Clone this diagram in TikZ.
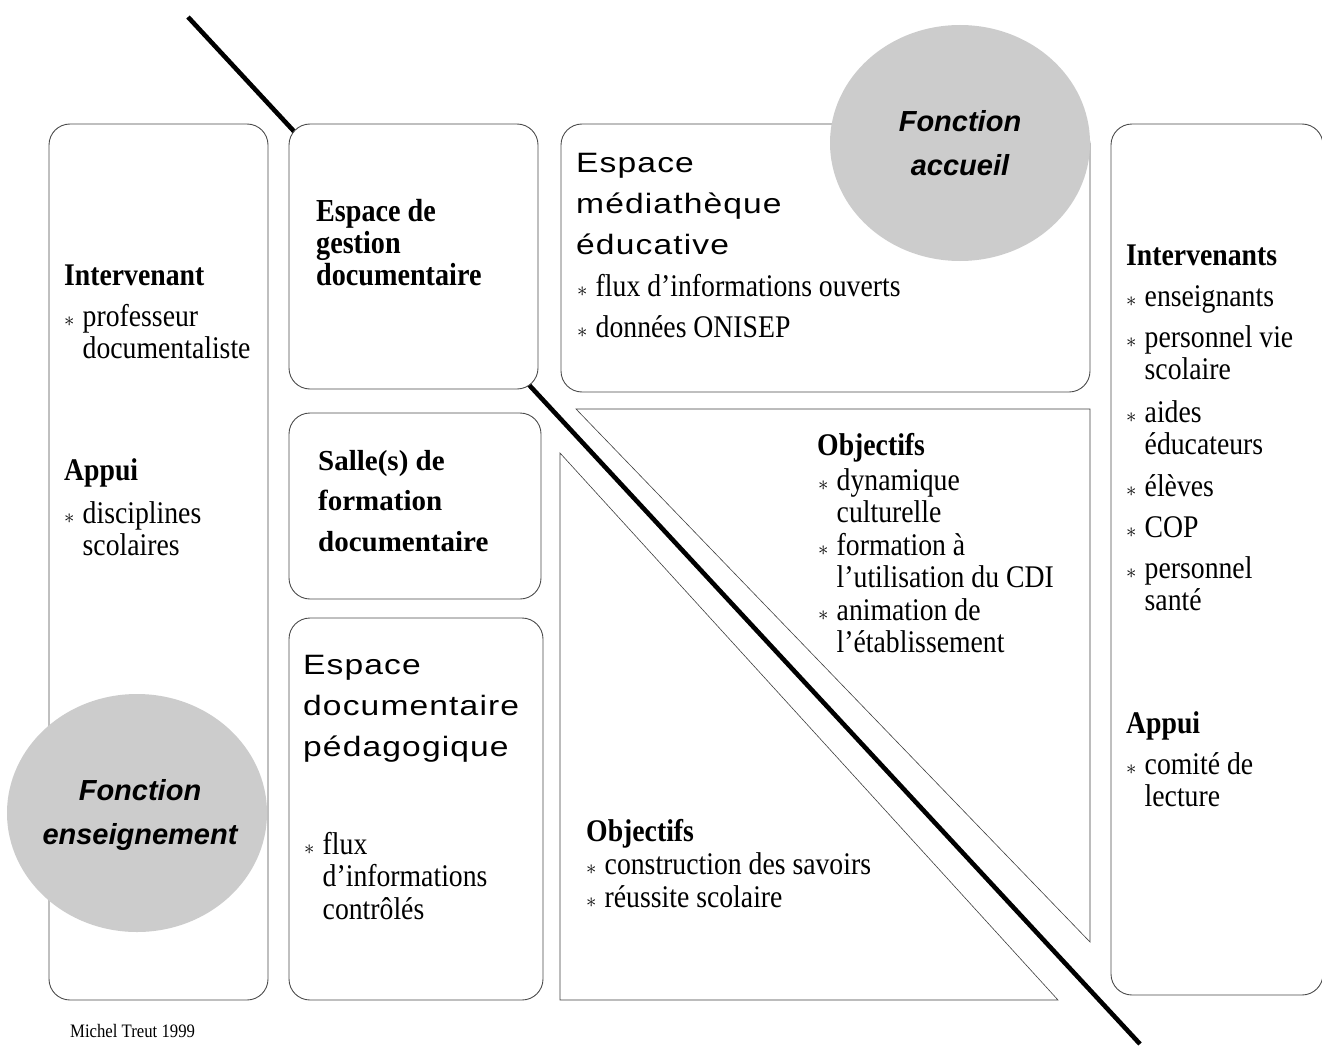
\documentclass[tikz,border=0pt]{standalone}
\usepackage{fontspec}
\setmainfont{Liberation Serif}
\newfontfamily\cond{Liberation Serif}[FakeStretch=0.88]
\newfontfamily\sansls{Liberation Sans}[FakeStretch=1.2, LetterSpace=4]
\newfontfamily\sansf{Liberation Sans}
\usetikzlibrary{shapes.geometric}
\newcommand{\mystar}{\makebox[18.5pt][l]{\fontsize{20}{20}\selectfont$\ast$}}
\newcommand{\lns}[1]{\begin{tabular}[t]{@{}l@{}}#1\end{tabular}}
\newcommand{\itm}[1]{\mystar\lns{#1}}
\begin{document}
\begin{tikzpicture}[x=1pt,y=-1pt,
  rbox/.style={draw=black!70, line width=0.9pt, rounded corners=21pt, fill=white},
  tri/.style={draw=black!75, line width=0.6pt, fill=white},
  fctfill/.style={fill=black!20},
  fct/.style={inner sep=0, align=center, font=\sansf\bfseries\itshape\fontsize{29}{43.5}\selectfont},
  ser/.style={inner sep=0, anchor=base west, font=\cond\fontsize{31.5}{32.5}\selectfont},
  serb/.style={inner sep=0, anchor=base west, font=\cond\bfseries\fontsize{31.5}{32.5}\selectfont},
  salle/.style={inner sep=0, anchor=base west, font=\bfseries\fontsize{29}{40.5}\selectfont},
  sansh/.style={inner sep=0, anchor=base west, font=\sansls\fontsize{28}{41}\selectfont},
  credit/.style={inner sep=0, anchor=base west, font=\cond\fontsize{19}{20}\selectfont}]
\useasboundingbox (0,0) rectangle (1322,1046);
\clip (0,0) rectangle (1322,1046);
% diagonal line (behind boxes)
\coordinate (d1) at (188,17);
\coordinate (d2) at (1140,1044);
\draw[line width=4.6pt] (d1) -- (d2);
% boxes
\draw[rbox] (49,124) rectangle (268,1000);
\draw[rbox] (289,124) rectangle (538,389);
\draw[rbox] (289,413) rectangle (541,599);
\draw[rbox] (289,618) rectangle (543,1000);
\draw[rbox] (561,124) rectangle (1090,392);
\draw[rbox] (1111,124) rectangle (1323,995);
% triangles
\draw[tri] (576,409) -- (1090,409) -- (1090,942) -- cycle;
\draw[tri] (560,453) -- (560,1000) -- (1058,1000) -- cycle;
% function ellipses
\fill[fctfill] (960,143) ellipse [x radius=130, y radius=118];
\fill[fctfill] (137,813) ellipse [x radius=130, y radius=119];
\node[fct] (acc) at (960,143) {Fonction\\accueil};
\node[fct] (ens) at (140,815) {Fonction\\enseignement};
% left box
\node[serb] (lh1) at (64,285) {Intervenant};
\node[ser] (li1) at (64,326) {\itm{professeur\\documentaliste}};
\node[serb] (lh2) at (64,480) {Appui};
\node[ser] (li2) at (64,523) {\itm{disciplines\\scolaires}};
% gestion
\node[serb, font=\cond\bfseries\fontsize{32}{32}\selectfont] (ges) at (316,221) {\lns{Espace de\\gestion\\documentaire}};
% salle
\node[salle] (sal) at (318,470) {\lns{Salle(s) de\\formation\\documentaire}};
% pedagogique
\node[sansh] (ped) at (303,674) {\lns{Espace\\documentaire\\pédagogique}};
\node[ser] (pedi) at (304,854) {\itm{flux\\d’informations\\contrôlés}};
% mediatheque
\node[sansh] (med) at (576,172) {\lns{Espace\\médiathèque\\éducative}};
\node[ser] (medi1) at (577,296) {\itm{flux d’informations ouverts}};
\node[ser] (medi2) at (577,337) {\itm{données ONISEP}};
% upper objectives
\node[serb] (oh1) at (817,455) {Objectifs};
\node[ser] (o1) at (818,490) {\itm{dynamique\\culturelle}};
\node[ser] (o2) at (818,555) {\itm{formation à\\l’utilisation du CDI}};
\node[ser] (o3) at (818,620) {\itm{animation de\\l’établissement}};
% lower objectives
\node[serb] (oh2) at (586,841) {Objectifs};
\node[ser] (o4) at (586,874) {\itm{construction des savoirs}};
\node[ser] (o5) at (586,907) {\itm{réussite scolaire}};
% right box
\node[serb] (rh1) at (1126,265) {Intervenants};
\node[ser] (r1) at (1126,306) {\itm{enseignants}};
\node[ser] (r2) at (1126,347) {\itm{personnel vie\\scolaire}};
\node[ser] (r3) at (1126,422) {\itm{aides\\éducateurs}};
\node[ser] (r4) at (1126,496) {\itm{élèves}};
\node[ser] (r5) at (1126,537) {\itm{COP}};
\node[ser] (r6) at (1126,578) {\itm{personnel\\santé}};
\node[serb] (rh2) at (1126,733) {Appui};
\node[ser] (r7) at (1126,774) {\itm{comité de\\lecture}};
% credit
\node[credit] (cr) at (70,1037) {Michel Treut 1999};
\end{tikzpicture}
\end{document}
